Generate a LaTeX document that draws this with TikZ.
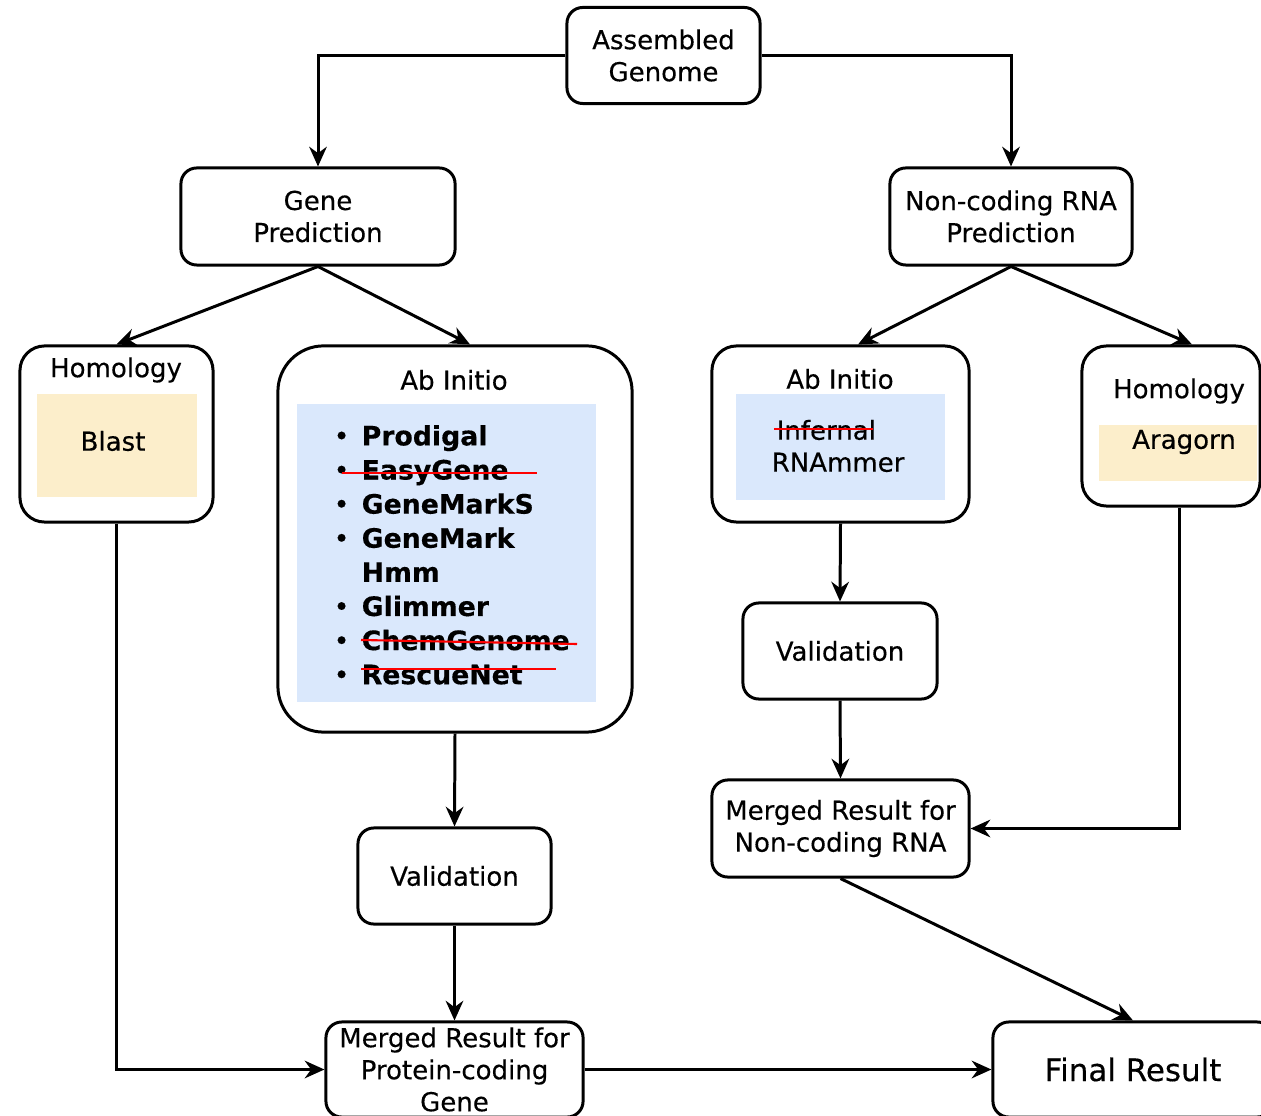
\documentclass[tikz,border=0pt]{standalone}
\usepackage{fontspec}
\setmainfont{DejaVu Sans}[FakeBold=0.35]
\usepackage{tikz}
\usetikzlibrary{shapes,arrows.meta}
\definecolor{abblue}{HTML}{DAE8FC}
\definecolor{homtan}{HTML}{FCEECB}
\tikzstyle{line} = [draw, -{Stealth[length=5.6pt,width=5pt]}, line width=0.85pt]
\tikzstyle{strike} = [draw=red, line width=0.6pt]
\tikzstyle{block} = [draw, rectangle, rounded corners=4.5pt, line width=0.85pt, align=center, inner sep=0pt, minimum width=1.93cm, minimum height=0.96cm]
\tikzstyle{block2} = [block, minimum width=2.74cm, minimum height=0.97cm]
\tikzstyle{block3} = [block, minimum width=2.57cm, minimum height=0.97cm]
\tikzstyle{group} = [draw, rectangle, rounded corners=7pt, line width=0.85pt]
\tikzstyle{title} = [inner sep=0pt]
\tikzstyle{toolbox} = [rectangle, inner sep=0pt, align=center]

\begin{document}
\begin{tikzpicture}[x=0.01cm, y=-0.01cm, font=\fontsize{7.4}{9.1}\selectfont]
    \clip (0,0) rectangle (1261,1116);
    % top row
    \node [block] (idx0) at (663.5,55.5) {Assembled\\Genome};
    \node [block2] (idx1) at (318,216.5) {Gene\\Prediction};
    \node [block, minimum width=2.42cm, minimum height=0.97cm] (idx2) at (1011,216.5) {Non-coding RNA\\Prediction};
    % tool groups
    \node [group, minimum width=1.93cm, minimum height=1.76cm] (idx3) at (116.5,434) {};
    \node [title] (idx3t) at (116,370) {Homology};
    \node [toolbox, fill=homtan, minimum width=1.60cm, minimum height=1.03cm] (idx3b) at (117,445.5) {};
    \node [title] (idx3c) at (113,441) {Blast};
    \node [group, rounded corners=13pt, minimum width=3.54cm, minimum height=3.86cm] (idx4) at (455,539) {};
    \node [title] (idx4t) at (454,380) {Ab Initio};
    \node [toolbox, fill=abblue, minimum width=2.99cm, minimum height=2.98cm] (idx4b) at (446.5,553) {};
    \node [title, anchor=west, font=\bfseries\fontsize{7.6}{9.7}\selectfont] (idx4c) at (333,558) {%
      \begin{tabular}{@{}p{0.28cm}@{}l@{}}
      {\mdseries\textbullet} & Prodigal\\
      {\mdseries\textbullet} & EasyGene\\
      {\mdseries\textbullet} & GeneMarkS\\
      {\mdseries\textbullet} & GeneMark\\
                  & Hmm\\
      {\mdseries\textbullet} & Glimmer\\
      {\mdseries\textbullet} & ChemGenome\\
      {\mdseries\textbullet} & RescueNet
      \end{tabular}};
    \node [group, minimum width=2.57cm, minimum height=1.76cm] (idx5) at (840.5,434) {};
    \node [title] (idx5t) at (840,379) {Ab Initio};
    \node [toolbox, fill=abblue, minimum width=2.09cm, minimum height=1.06cm] (idx5b) at (840.5,447) {};
    \node [title, align=left, anchor=west] (idx5c) at (771,446) {\hspace{0.05cm}Infernal\\RNAmmer};
    \node [group, minimum width=1.78cm, minimum height=1.60cm] (idx6) at (1171,426) {};
    \node [title] (idx6t) at (1179,391) {Homology};
    \node [toolbox, fill=homtan, minimum width=1.57cm, minimum height=0.56cm] (idx6b) at (1178,453) {};
    \node [title] (idx6c) at (1184,442) {Aragorn};
    % struck out tools
    \path [strike] (342,473) -- (537,473);
    \path [strike] (361,640) -- (577,644);
    \path [strike] (361,669) -- (556,669);
    \path [strike] (774,429) -- (873,429);
    % lower boxes
    \node [block] (idx7) at (454.5,876) {Validation};
    \node [block, minimum width=1.94cm] (idx8) at (840,651) {Validation};
    \node [block3] (idx9) at (840.5,828.5) {Merged Result for\\Non-coding RNA};
    \node [block3, minimum height=0.95cm] (idx10) at (454.5,1069.5) {Merged Result for\\Protein-coding\\Gene};
    \node [block, minimum width=2.80cm, minimum height=0.95cm, font=\fontsize{8.8}{10}\selectfont] (idx11) at (1133,1069.5) {Final Result};
    \path [line] (idx0.west) -| (idx1.north);
    \path [line] (idx0.east) -| (idx2.north);
    \path [line] (idx1.south) -- (idx3.north);
    \path [line] (idx1.south) -- ([xshift=0.15cm]idx4.north);
    \path [line] (idx2.south) -- ([xshift=0.175cm]idx5.north);
    \path [line] (idx2.south) -- ([xshift=0.21cm]idx6.north);
    \path [line] (idx3.south) |- (idx10.west);
    \path [line] (idx4.south) -- (idx7.north);
    \path [line] (idx7.south) -- (idx10.north);
    \path [line] (idx10.east) -- (idx11.west);
    \path [line] (idx5.south) -- (idx8.north);
    \path [line] (idx8.south) -- (idx9.north);
    \path [line] ([xshift=0.08cm]idx6.south) |- (idx9.east);
    \path [line] (idx9.south) -- (idx11.north);
\end{tikzpicture}
\end{document}
